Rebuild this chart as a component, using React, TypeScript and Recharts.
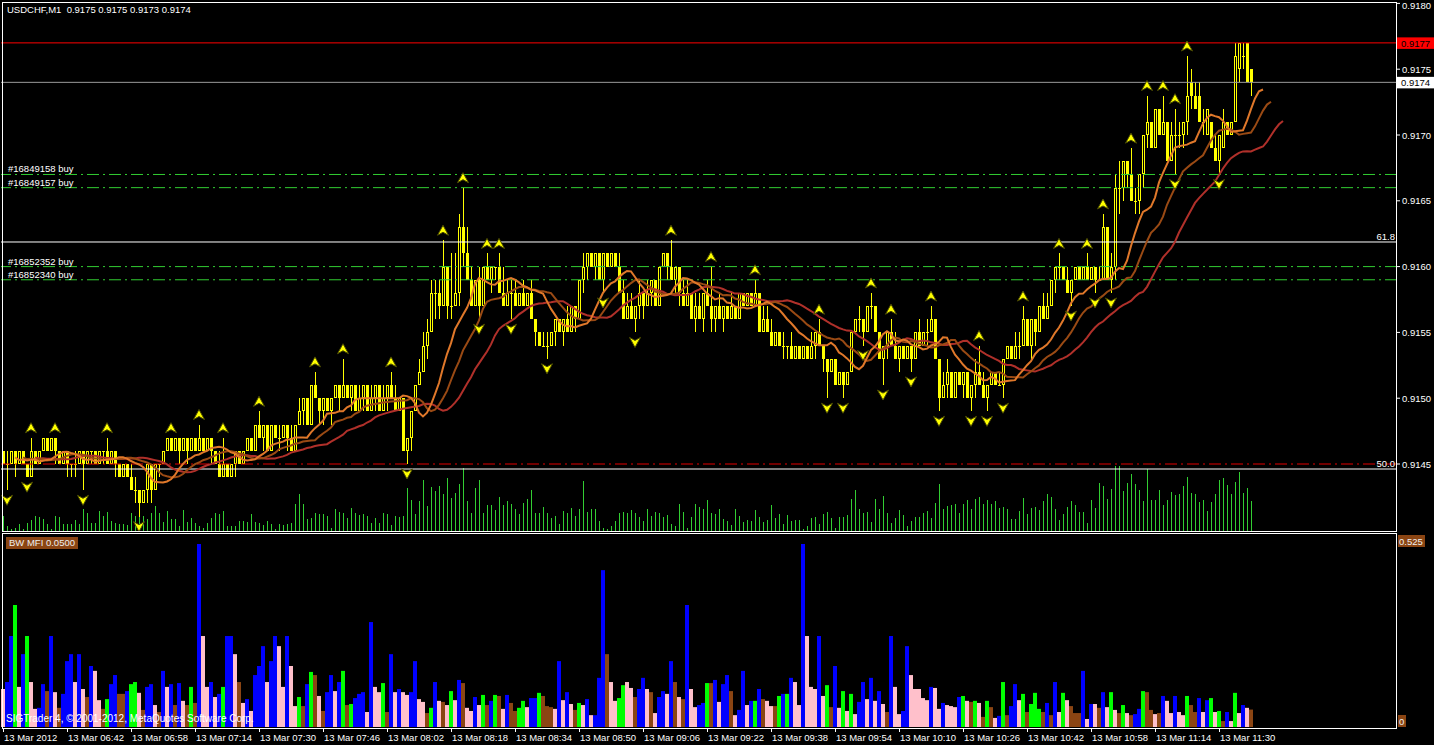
import React from "react";
import { ComposedChart, Bar, Line, XAxis, YAxis, ReferenceLine } from "recharts";

const FONT = '"Liberation Sans", Arial, sans-serif';

// USDCHF, M1 — 13 Mar 2012, one bar per minute from 06:26.
// Quotes are in pips: 9174 means 0.9174.
const opens = [
  9146,9145,9145,9146,9145,9146,9145,9144,9146,9145, 9146,9147,9146,9147,9146,9145,9146,9145,9145,9145,
  9146,9145,9146,9146,9145,9146,9146,9145,9146,9145, 9144,9145,9144,9143,9143,9142,9143,9145,9143,9145,
  9145,9146,9147,9146,9147,9146,9147,9146,9147,9146, 9147,9146,9147,9146,9145,9144,9145,9144,9145,9146,
  9145,9146,9147,9146,9148,9147,9148,9146,9148,9147, 9147,9148,9147,9146,9148,9149,9150,9148,9151,9150,
  9149,9150,9149,9150,9151,9150,9151,9150,9151,9149, 9150,9151,9149,9150,9151,9149,9150,9151,9150,9149,
  9150,9146,9147,9149,9151,9152,9154,9155,9158,9158, 9157,9160,9157,9157,9158,9163,9161,9159,9157,9159,
  9157,9160,9159,9160,9160,9158,9157,9158,9158,9157, 9158,9157,9158,9156,9155,9154,9154,9154,9155,9156,
  9155,9156,9155,9157,9156,9159,9160,9161,9160,9161, 9159,9161,9160,9161,9160,9158,9156,9157,9156,9157,
  9158,9157,9158,9159,9157,9160,9161,9160,9159,9160, 9158,9157,9158,9156,9157,9156,9158,9157,9156,9157,
  9156,9157,9156,9157,9156,9158,9157,9158,9157,9158, 9155,9156,9155,9154,9155,9154,9154,9154,9153,9154,
  9153,9154,9153,9154,9155,9154,9153,9152,9153,9151, 9152,9151,9152,9155,9156,9156,9155,9157,9157,9155,
  9153,9154,9155,9154,9153,9154,9153,9154,9153,9155, 9154,9155,9155,9156,9153,9150,9151,9152,9150,9152,
  9151,9152,9150,9151,9152,9151,9150,9151,9152,9151, 9151,9153,9154,9153,9154,9154,9156,9154,9156,9155,
  9157,9156,9157,9159,9160,9160,9159,9158,9159,9160, 9159,9160,9159,9160,9159,9159,9163,9159,9160,9166,
  9166,9168,9167,9165,9165,9167,9170,9171,9169,9172, 9170,9171,9168,9170,9170,9170,9171,9174,9173,9173,
  9171,9170,9171,9169,9168,9169,9171,9170,9171,9175, 9176,9177,9175,
];
const highs = [
  9146,9146,9146,9146,9146,9146,9145,9147,9146,9146, 9147,9147,9147,9147,9146,9146,9146,9145,9146,9146,
  9146,9146,9146,9146,9146,9146,9147,9146,9146,9145, 9145,9145,9145,9144,9143,9143,9145,9145,9145,9145,
  9146,9147,9147,9147,9147,9147,9147,9147,9147,9148, 9147,9147,9147,9146,9146,9147,9145,9145,9146,9146,
  9146,9147,9147,9148,9149,9148,9148,9148,9148,9148, 9148,9148,9148,9148,9150,9150,9150,9151,9152,9150,
  9150,9150,9150,9151,9151,9153,9151,9151,9151,9151, 9151,9151,9151,9151,9151,9151,9151,9152,9151,9150,
  9150,9147,9149,9151,9153,9155,9156,9159,9159,9159, 9162,9160,9161,9161,9164,9166,9163,9160,9159,9160,
  9160,9161,9160,9160,9161,9160,9159,9159,9159,9158, 9159,9158,9159,9156,9155,9155,9155,9155,9156,9156,
  9156,9157,9157,9157,9159,9161,9161,9161,9161,9161, 9161,9161,9161,9161,9161,9159,9158,9158,9157,9159,
  9158,9159,9159,9159,9160,9161,9161,9162,9160,9160, 9159,9159,9158,9158,9158,9158,9159,9160,9157,9158,
  9157,9157,9158,9157,9158,9158,9158,9158,9159,9158, 9157,9157,9156,9155,9155,9155,9154,9155,9154,9154,
  9154,9154,9155,9155,9156,9154,9153,9153,9153,9152, 9152,9152,9155,9156,9157,9156,9157,9158,9157,9155,
  9154,9155,9156,9155,9154,9154,9154,9154,9155,9156, 9155,9156,9157,9156,9153,9152,9153,9152,9152,9152,
  9152,9152,9151,9153,9154,9152,9151,9152,9152,9152, 9153,9154,9154,9155,9155,9157,9156,9156,9156,9157,
  9158,9158,9159,9160,9161,9160,9160,9159,9160,9160, 9160,9161,9160,9160,9160,9164,9163,9161,9167,9168,
  9168,9168,9169,9166,9167,9170,9173,9171,9172,9172, 9173,9171,9171,9172,9171,9171,9176,9175,9174,9174,
  9172,9172,9171,9170,9170,9172,9171,9171,9177,9177, 9177,9177,9175,
];
const lows = [
  9145,9143,9145,9144,9145,9145,9144,9144,9145,9145, 9146,9146,9146,9145,9145,9145,9144,9144,9144,9145,
  9143,9145,9145,9145,9145,9145,9145,9145,9144,9144, 9144,9144,9143,9142,9141,9142,9142,9142,9143,9144,
  9145,9146,9146,9146,9145,9146,9145,9146,9146,9146, 9146,9146,9145,9145,9144,9144,9144,9144,9144,9145,
  9145,9146,9146,9146,9147,9146,9146,9146,9147,9146, 9147,9146,9146,9146,9148,9148,9148,9148,9150,9148,
  9148,9149,9148,9150,9149,9150,9150,9149,9149,9149, 9149,9149,9149,9149,9149,9149,9149,9150,9149,9149,
  9146,9145,9146,9149,9151,9152,9153,9155,9156,9156, 9157,9156,9156,9157,9157,9160,9159,9157,9157,9156,
  9157,9159,9158,9159,9158,9157,9157,9156,9157,9157, 9157,9157,9156,9154,9154,9154,9153,9154,9154,9155,
  9154,9155,9155,9155,9156,9158,9159,9160,9159,9159, 9158,9160,9160,9160,9158,9156,9156,9156,9155,9156,
  9156,9157,9157,9157,9157,9160,9159,9159,9158,9157, 9157,9157,9156,9155,9156,9155,9157,9155,9155,9156,
  9155,9156,9156,9156,9156,9157,9157,9157,9157,9155, 9155,9155,9154,9154,9154,9153,9153,9153,9153,9153,
  9153,9153,9153,9153,9154,9152,9150,9152,9151,9151, 9150,9151,9152,9155,9155,9154,9155,9156,9155,9153,
  9151,9153,9154,9153,9152,9153,9153,9152,9153,9154, 9154,9154,9155,9153,9149,9150,9150,9150,9150,9151,
  9150,9150,9149,9150,9151,9150,9149,9151,9151,9151, 9150,9153,9153,9153,9153,9154,9154,9153,9154,9155,
  9156,9156,9157,9158,9159,9159,9158,9157,9159,9159, 9159,9159,9159,9158,9159,9159,9159,9158,9159,9164,
  9165,9166,9165,9164,9164,9166,9169,9169,9169,9170, 9170,9168,9168,9167,9169,9169,9170,9172,9172,9171,
  9170,9170,9169,9168,9167,9169,9170,9170,9171,9174, 9175,9174,9173,
];
const closes = [
  9145,9145,9146,9145,9146,9145,9144,9146,9145,9146, 9147,9146,9147,9146,9145,9146,9145,9145,9145,9146,
  9145,9146,9146,9145,9146,9146,9145,9146,9145,9144, 9145,9144,9143,9143,9142,9143,9145,9143,9145,9145,
  9146,9147,9146,9147,9146,9147,9146,9147,9146,9147, 9146,9147,9146,9145,9144,9145,9144,9145,9146,9145,
  9146,9147,9146,9148,9147,9148,9146,9148,9147,9147, 9148,9147,9146,9148,9149,9150,9148,9151,9150,9149,
  9150,9149,9150,9151,9150,9151,9150,9151,9149,9150, 9151,9149,9150,9151,9149,9150,9151,9150,9149,9150,
  9146,9147,9149,9151,9152,9154,9155,9158,9158,9157, 9160,9157,9157,9158,9163,9161,9159,9157,9159,9157,
  9160,9159,9160,9160,9158,9157,9158,9158,9157,9158, 9157,9158,9156,9155,9154,9154,9154,9155,9156,9155,
  9156,9155,9157,9156,9159,9160,9161,9160,9161,9159, 9161,9160,9161,9160,9158,9156,9157,9156,9157,9158,
  9157,9158,9159,9157,9160,9161,9160,9159,9160,9158, 9157,9158,9156,9157,9156,9158,9157,9156,9157,9156,
  9157,9156,9157,9156,9158,9157,9158,9157,9158,9155, 9156,9155,9154,9155,9154,9154,9154,9153,9154,9153,
  9154,9153,9154,9155,9154,9153,9152,9153,9151,9152, 9151,9152,9155,9156,9156,9155,9157,9157,9155,9153,
  9154,9155,9154,9153,9154,9153,9154,9153,9155,9154, 9155,9155,9156,9153,9150,9151,9152,9150,9152,9151,
  9152,9150,9151,9152,9151,9150,9151,9152,9151,9151, 9153,9154,9153,9154,9154,9156,9154,9156,9155,9157,
  9156,9157,9159,9160,9160,9159,9158,9159,9160,9159, 9160,9159,9160,9159,9159,9163,9159,9160,9166,9166,
  9168,9167,9165,9165,9167,9170,9171,9169,9172,9170, 9171,9168,9170,9170,9170,9171,9173,9173,9172,9171,
  9171,9172,9169,9168,9170,9171,9170,9171,9176,9177, 9176,9174,9174,
];
// Tick volume of each bar
const volumes = [
  15,5,2,3,7,2,8,11,15,14, 12,7,2,15,14,7,7,7,11,7, 22,18,8,8,20,15,19,10,8,7, 7,6,18,15,25,15,12,18,25,18, 9,20,12,12,5,21,9,13,8,5,
  3,8,13,18,17,20,5,5,5,10, 10,9,17,9,8,6,10,7,2,7, 6,7,8,27,37,27,12,13,18,17, 17,15,3,22,19,18,13,23,18,16, 17,15,8,13,8,18,17,6,15,14,
  15,43,31,17,30,51,25,44,40,45, 37,53,33,38,47,63,30,18,43,51, 18,26,26,21,34,26,30,27,22,17, 28,32,41,18,18,24,18,13,15,7, 20,18,23,15,22,50,19,22,22,10,
  3,2,5,10,18,19,18,21,18,14, 10,22,15,19,18,14,16,7,5,27, 19,3,14,27,24,22,31,18,17,22, 12,10,6,22,15,9,11,10,21,14, 9,11,26,13,17,7,16,10,11,11,
  2,5,13,14,7,17,19,13,3,14, 14,16,32,41,22,18,19,9,32,22, 35,18,8,13,21,16,5,10,14,14, 18,20,13,28,47,22,25,26,27,18, 27,31,22,32,34,27,31,27,30,23,
  24,22,12,12,20,33,17,23,24,21, 30,37,34,22,11,17,24,30,26,19, 19,8,31,23,48,45,32,42,65,65, 40,48,57,47,41,30,62,31,31,41, 26,31,39,36,37,45,54,38,37,29,
  31,20,29,37,51,53,46,37,49,59, 38,43,30,
];
// Bill Williams Market Facilitation Index of each bar
const mfiValues = [
  .109,.129,.261,.350,.115,.209,.261,.129,.052,.055, .123,.103,.261,.100,.055,.095,.189,.209,.129,.209,
  .109,.086,.175,.161,.077,.052,.080,.123,.149,.095, .095,.103,.123,.129,.098,.049,.115,.123,.063,.043,
  .161,.115,.123,.063,.126,.075,.063,.115,.069,.525, .261,.115,.129,.086,.095,.115,.261,.261,.209,.129,
  .069,.080,.046,.149,.175,.232,.129,.189,.261,.232, .115,.261,.175,.060,.086,.060,.123,.158,.149,.089,
  .046,.100,.149,.103,.129,.161,.063,.066,.083,.095, .100,.043,.301,.115,.100,.126,.043,.209,.100,.109,
  .100,.092,.100,.189,.080,.072,.040,.055,.129,.075, .072,.063,.103,.077,.135,.126,.055,.046,.086,.063,
  .092,.063,.075,.092,.089,.052,.092,.069,.046,.055, .075,.057,.083,.083,.098,.089,.060,.057,.052,.189,
  .077,.100,.066,.049,.069,.063,.080,.034,.034,.141, .450,.209,.129,.075,.083,.120,.129,.112,.086,.109,
  .141,.109,.100,.040,.086,.103,.095,.189,.129,.086, .080,.350,.109,.057,.063,.069,.126,.126,.135,.072,
  .123,.149,.103,.034,.049,.161,.063,.075,.075,.109, .080,.075,.060,.060,.089,.095,.095,.141,.129,.063,
  .525,.261,.115,.109,.261,.089,.120,.057,.175,.055, .103,.046,.095,.037,.072,.129,.080,.141,.075,.103,
  .066,.043,.261,.115,.037,.046,.232,.149,.109,.109, .083,.077,.115,.112,.052,.069,.063,.060,.057,.086,
  .089,.075,.072,.075,.069,.029,.075,.057,.026,.032, .129,.034,.060,.123,.077,.095,.043,.066,.098,.052,
  .043,.069,.034,.129,.043,.098,.077,.060,.040,.040, .161,.023,.066,.066,.055,.100,.057,.100,.049,.040,
  .063,.040,.034,.037,.052,.103,.100,.049,.037,.040, .089,.075,.040,.089,.043,.034,.089,.063,.043,.083,
  .043,.077,.083,.043,.046,.017,.043,.017,.098,.040, .063,.055,.050,
];
// MFI zone of each bar: G = green, R = fade, B = fake, P = squat
const mfiZones = (
  "PBBGPBGPPB" + "BRBPRBBBPB" + "PRBPPRGBBR" + "RBGGPRBBPR" + "BPBRBPRGRB" +
  "PPBPBGBBPR" + "PBPBBBPBBP" + "PBPPGRBGRP" + "RBBPBGRGBB" + "BPBPPGRBPB" +
  "PPBBPPRGBP" + "RPGPBRPPBP" + "GRBGRPBRRG" + "GPBBGRRRPB" + "PBPRGPBPBB" +
  "BRPPGGPPRB" + "BPRPBBPBRP" + "RBPPBBGRBP" + "BBRPBBPBGB" + "RPPRGBGBPP" +
  "BPPPBPGRBP" + "GPGPBBPBPB" + "PRBPPBBPPP" + "PPBPPBPPPB" + "GPRGPRGRPB" +
  "GRBBPGRGGG" + "RBRBPGPRRR" + "BPBPRBPGPR" + "GPRBBGRRPR" + "BPPBPPGRRB" +
  "PBGPGRBPGP" + "BPR"
).split("");
// Bars marked with an up / down fractal
const upFractals = [7, 13, 26, 42, 49, 55, 64, 78, 85, 97, 110, 115, 121, 124, 167, 177, 188, 204, 217, 222, 232, 244, 255, 264, 271, 275, 282, 286, 290, 293, 296];
const downFractals = [1, 6, 20, 34, 101, 119, 127, 136, 150, 158, 206, 210, 215, 220, 227, 234, 242, 246, 250, 267, 273, 277, 293, 304];

// Open orders, stop level, Fibonacci levels and the ask quote
const orderLines = [
  { ticket: "#16849158 buy", price: 9167 },
  { ticket: "#16849157 buy", price: 9166 },
  { ticket: "#16852352 buy", price: 9160 },
  { ticket: "#16852340 buy", price: 9159 },
];
const stopLevel = 9145;
const fiboLevels = [
  { label: "61.8", price: 9161.87 },
  { label: "50.0", price: 9144.62 },
];
const askPrice = 9177;
const priceTicks = [9145, 9150, 9155, 9160, 9165, 9170, 9175, 9180];
const symbolName = "USDCHF,M1";
const dayText = "13 Mar";
const dateText = "13 Mar 2012";
const firstBarMinute = 6 * 60 + 26;

// ---------------------------------------------------------------------------
const PRICE_MIN = 9139.91;
const PRICE_MAX = 9180.106;
const VOLUME_SCALE = 529;
const EMPTY_SLOTS = 36;
const AXIS_X = 1397;

const YELLOW = "#FFFF00";
const zoneColors: Record<string, string> = { G: "#00FF00", R: "#8B4513", B: "#0000FF", P: "#FFC0CB" };

const barCount = opens.length;
const lastBar = barCount - 1;
const bidPrice = closes[lastBar];
const fmtPrice = (v: number) => (v / 10000).toFixed(4);

// Alligator: smoothed moving averages of the median price, shifted forward
const median = highs.map((h, i) => (h + lows[i]) / 2);
const smma = (src: number[], period: number) => {
  let prev = src[0];
  return src.map((v, i) => (prev = i === 0 ? v : (prev * (period - 1) + v) / period));
};
const jawLine = smma(median, 13);
const teethLine = smma(median, 8);
const lipsLine = smma(median, 5);
const shifted = (src: number[], shift: number, i: number) => {
  const k = i - shift;
  return k >= 0 && k < src.length ? src[k] : null;
};

const upSet = new Set(upFractals);
const downSet = new Set(downFractals);

const rows = Array.from({ length: barCount + EMPTY_SLOTS }, (_, i) => {
  const has = i < barCount;
  return {
    i,
    o: has ? opens[i] : null,
    h: has ? highs[i] : null,
    l: has ? lows[i] : null,
    c: has ? closes[i] : null,
    hl: has ? [lows[i], highs[i]] : null,
    vol: has ? volumes[i] : null,
    mfi: has ? mfiValues[i] : null,
    zone: has ? mfiZones[i] : null,
    jaw: shifted(jawLine, 8, i),
    teeth: shifted(teethLine, 5, i),
    lips: shifted(lipsLine, 3, i),
    fu: has && upSet.has(i) ? highs[i] : null,
    fd: has && downSet.has(i) ? lows[i] : null,
  };
});

const mfiMax = Math.max(...mfiValues);
const timeTicks = Array.from({ length: Math.ceil(barCount / 16) }, (_, k) => k * 16);
const timeLabel = (i: number) => {
  if (i === 0) return dateText;
  const t = firstBarMinute + i;
  const hh = String(Math.floor(t / 60)).padStart(2, "0");
  const mm = String(t % 60).padStart(2, "0");
  return `${dayText} ${hh}:${mm}`;
};

// ---------------------------------------------------------------------------
const Candle = (props: any) => {
  const { x, y, width, height, payload } = props;
  if (!payload || payload.o == null) return null;
  const { o, h, l, c } = payload;
  const mid = Math.floor(x + width / 2);
  const k = h > l ? height / (h - l) : 0;
  const py = (v: number) => Math.round(y + (h - v) * k);
  const top = py(h);
  const bottom = py(l);
  const yo = py(o);
  const yc = py(c);
  let body;
  if (c > o) {
    body = <rect x={mid - 0.5} y={yc + 0.5} width={2} height={Math.max(yo - yc - 1, 0)} fill="#000" stroke={YELLOW} strokeWidth={1} />;
  } else if (c < o) {
    body = <rect x={mid - 1} y={yo} width={3} height={Math.max(yc - yo, 1)} fill={YELLOW} />;
  } else {
    body = <rect x={mid - 1} y={yo} width={3} height={1} fill={YELLOW} />;
  }
  return (
    <g>
      <rect x={mid} y={top} width={1} height={Math.max(bottom - top, 1)} fill={YELLOW} />
      {body}
    </g>
  );
};

const VolumeBar = (props: any) => {
  const { x, y, width, height, payload } = props;
  if (!payload || payload.vol == null) return null;
  return <rect x={Math.floor(x + width / 2)} y={y} width={1} height={Math.max(height, 1)} fill="#32CD32" />;
};

const MfiBar = (props: any) => {
  const { x, y, width, height, payload } = props;
  if (!payload || payload.mfi == null) return null;
  return <rect x={x} y={y} width={width} height={height} fill={zoneColors[payload.zone]} />;
};

const fractalArrow = (dir: 1 | -1, key: string) => (props: any) => {
  const { cx, cy, index, payload } = props;
  const v = payload ? payload[key] : null;
  if (v == null || cy == null || Number.isNaN(cy)) return <g key={`${key}${index}`} />;
  const d = `M${cx},${cy + dir * 15} L${cx + 5.5},${cy + dir * 5} L${cx},${cy + dir * 8} L${cx - 5.5},${cy + dir * 5} Z`;
  return <path key={`${key}${index}`} d={d} fill={YELLOW} stroke="#4a4a00" strokeWidth={1} />;
};

const PriceTick = (props: any) => {
  const { y, payload } = props;
  const v = payload.value;
  const label = fmtPrice(v);
  if (v === askPrice || v === bidPrice) {
    const bg = v === askPrice ? "#FF0000" : "#FFFFFF";
    return (
      <g>
        <rect x={AXIS_X} y={y - 5.5} width={37} height={11.5} fill={bg} />
        <text x={AXIS_X + 4} y={y + 3.8} fill="#000" fontSize={9.5} fontFamily={FONT}>{label}</text>
      </g>
    );
  }
  const baseline = Math.max(y + 3.5, 9);
  return (
    <g>
      <line x1={AXIS_X} x2={AXIS_X + 3} y1={y} y2={y} stroke="#FFFFFF" />
      <text x={AXIS_X + 5} y={baseline} fill="#FFFFFF" fontSize={9.5} fontFamily={FONT}>{label}</text>
    </g>
  );
};

const MfiTick = (props: any) => {
  const { y, payload } = props;
  const v = payload.value;
  const isZero = v === 0;
  const label = isZero ? "0" : v.toFixed(3);
  const top = isZero ? y - 12 : y - 9;
  return (
    <g>
      <rect x={AXIS_X + 1} y={top} width={isZero ? 8 : 27} height={12} fill="#8B4513" />
      <text x={AXIS_X + 2} y={top + 9.5} fill="#F0F0F0" fontSize={9.5} fontFamily={FONT}>{label}</text>
    </g>
  );
};

const TimeTick = (props: any) => {
  const { x, payload } = props;
  return (
    <g>
      <line x1={x + 0.5} x2={x + 0.5} y1={195} y2={199} stroke="#FFFFFF" />
      <text x={x + 1} y={208} fill="#FFFFFF" fontSize={9.5} fontFamily={FONT}>{timeLabel(payload.value)}</text>
    </g>
  );
};

// Ticket caption written just above the left end of an order line
const orderLabel = (text: string) => (props: any) => {
  const vb = props && props.viewBox;
  if (!vb || vb.y == null) return null;
  return (
    <text x={vb.x + 7} y={vb.y - 2} fill="#FFFFFF" fontSize={9.5} fontFamily={FONT}>
      {text}
    </text>
  );
};

const textStyle: React.CSSProperties = {
  position: "absolute",
  color: "#FFFFFF",
  fontFamily: FONT,
  fontSize: 9.5,
  lineHeight: "12px",
  whiteSpace: "pre",
};

export default function App() {
  const title = `${symbolName}  ${fmtPrice(opens[lastBar])} ${fmtPrice(highs[lastBar])} ${fmtPrice(lows[lastBar])} ${fmtPrice(closes[lastBar])}`;
  const mfiTitle = `BW MFI ${mfiValues[lastBar].toFixed(4)}`;
  return (
    <div style={{ position: "absolute", left: 0, top: 0, width: 1434, height: 745, background: "#000", overflow: "hidden" }}>
      <div style={{ position: "absolute", left: 0, top: 0 }}>
        <ComposedChart width={1434} height={533} data={rows} margin={{ top: 2, right: 0, bottom: 2, left: 1 }} barCategoryGap={0} barGap={0}>
          <XAxis xAxisId="p" dataKey="i" hide />
          <XAxis xAxisId="v" dataKey="i" hide />
          <YAxis
            yAxisId="p"
            orientation="right"
            width={37}
            domain={[PRICE_MIN, PRICE_MAX]}
            allowDataOverflow
            ticks={[...priceTicks, askPrice, bidPrice]}
            interval={0}
            tick={<PriceTick />}
            tickLine={false}
            axisLine={false}
          />
          <YAxis yAxisId="v" hide domain={[0, VOLUME_SCALE]} allowDataOverflow />
          <Bar xAxisId="v" yAxisId="v" dataKey="vol" shape={<VolumeBar />} isAnimationActive={false} />
          <ReferenceLine xAxisId="p" yAxisId="p" y={askPrice} stroke="#FF0000" />
          <ReferenceLine xAxisId="p" yAxisId="p" y={bidPrice} stroke="#9A9A9A" />
          <ReferenceLine xAxisId="p" yAxisId="p" y={stopLevel} stroke="#E00000" strokeDasharray="12 4 2 4" />
          {orderLines.map((o) => (
            <ReferenceLine key={o.ticket} xAxisId="p" yAxisId="p" y={o.price} stroke="#32CD32" strokeDasharray="12 4 2 4" label={orderLabel(o.ticket)} />
          ))}
          {fiboLevels.map((f) => (
            <ReferenceLine
              key={f.label}
              xAxisId="p"
              yAxisId="p"
              y={f.price}
              stroke="#FFFFFF"
              label={{ value: f.label, position: "insideBottomRight", offset: 2, fill: "#FFFFFF", fontSize: 9.5, fontFamily: FONT }}
            />
          ))}
          <Bar xAxisId="p" yAxisId="p" dataKey="hl" shape={<Candle />} isAnimationActive={false} />
          <Line xAxisId="p" yAxisId="p" dataKey="jaw" stroke="#B0302A" strokeWidth={2} dot={false} activeDot={false} isAnimationActive={false} />
          <Line xAxisId="p" yAxisId="p" dataKey="teeth" stroke="#9A4A14" strokeWidth={2} dot={false} activeDot={false} isAnimationActive={false} />
          <Line xAxisId="p" yAxisId="p" dataKey="lips" stroke="#E0782A" strokeWidth={2} dot={false} activeDot={false} isAnimationActive={false} />
          <Line xAxisId="p" yAxisId="p" dataKey="fu" stroke="none" dot={fractalArrow(-1, "fu")} activeDot={false} isAnimationActive={false} />
          <Line xAxisId="p" yAxisId="p" dataKey="fd" stroke="none" dot={fractalArrow(1, "fd")} activeDot={false} isAnimationActive={false} />
        </ComposedChart>
      </div>
      <div style={{ position: "absolute", left: 0, top: 533 }}>
        <ComposedChart width={1434} height={212} data={rows} margin={{ top: 11, right: 0, bottom: 0, left: 1 }} barCategoryGap={0} barGap={0}>
          <XAxis dataKey="i" interval={0} ticks={timeTicks} tick={<TimeTick />} tickLine={false} axisLine={false} height={18} />
          <YAxis
            orientation="right"
            width={37}
            domain={[0, mfiMax]}
            ticks={[0, mfiMax]}
            interval={0}
            tick={<MfiTick />}
            tickLine={false}
            axisLine={false}
            allowDataOverflow
          />
          <Bar dataKey="mfi" shape={<MfiBar />} isAnimationActive={false} />
        </ComposedChart>
      </div>
      {/* panel frames */}
      <div style={{ position: "absolute", left: 2, top: 2, width: 1395, height: 530, border: "1px solid #FFFFFF", boxSizing: "border-box", pointerEvents: "none" }} />
      <div style={{ position: "absolute", left: 2, top: 533, width: 1395, height: 196, border: "1px solid #FFFFFF", boxSizing: "border-box", pointerEvents: "none" }} />
      <div style={{ ...textStyle, left: 7, top: 4 }}>{title}</div>
      <div style={{ ...textStyle, left: 6, top: 537, height: 12, padding: "0 3px", background: "#8B4513", color: "#EEEEEE" }}>{mfiTitle}</div>
      <div style={{ ...textStyle, left: 6, top: 713, fontSize: 10 }}>SIGTrader 4, © 2001-2012, MetaQuotes Software Corp.</div>
    </div>
  );
}
